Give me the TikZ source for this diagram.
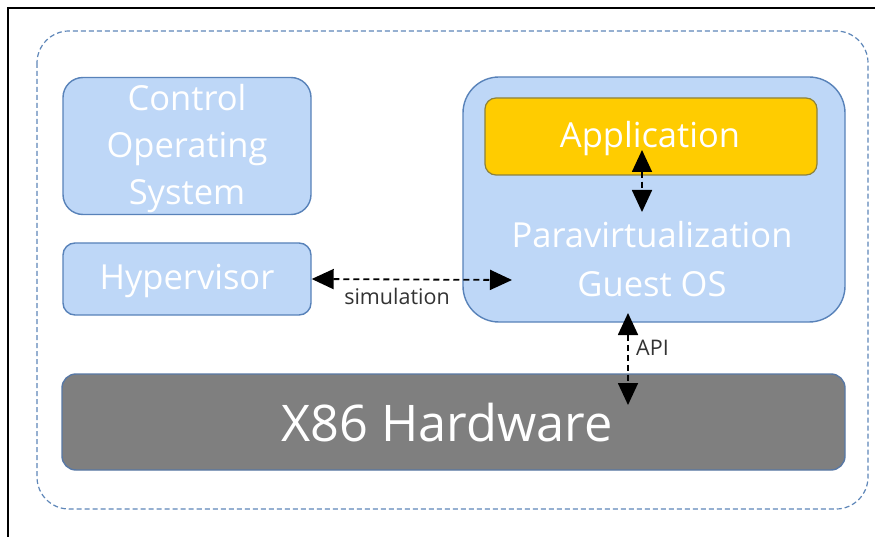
\documentclass[tikz,border=0pt]{standalone}
\usepackage{fontspec}
\setmainfont{Open Sans}
\usetikzlibrary{arrows.meta}
\definecolor{boxfill}{RGB}{190,215,247}
\definecolor{boxline}{RGB}{88,130,185}
\definecolor{appfill}{RGB}{255,204,0}
\definecolor{appline}{RGB}{140,130,60}
\definecolor{hwfill}{RGB}{127,127,127}
\definecolor{hwline}{RGB}{88,120,165}
\definecolor{outerline}{RGB}{95,135,185}
\tikzset{
  bluebox/.style={draw=boxline, fill=boxfill, line width=1.4pt, inner sep=0pt},
  appbox/.style={draw=appline, fill=appfill, line width=1.2pt, inner sep=0pt},
  hwbox/.style={draw=hwline, fill=hwfill, line width=1.4pt, inner sep=0pt},
  boxtext/.style={text=white, align=center, inner sep=0pt, anchor=base},
  dasharrow/.style={black, line width=1.8pt, dash pattern=on 6pt off 4pt, {Triangle[length=22pt,width=20pt]}-{Triangle[length=22pt,width=20pt]}},
  smalllabel/.style={font=\fontsize{21.5}{24}\selectfont, text=black!80, inner sep=0pt, anchor=base}
}
\begin{document}
\begin{tikzpicture}[x=1pt,y=-1pt]
\useasboundingbox (0,0) rectangle (875,537);
\fill[white] (0,0) rectangle (875,537);
% outer frame lines
\draw[black, line width=2pt] (8,537) -- (8,8) -- (875,8);
% outer dashed container
\draw[outerline, line width=1.2pt, dash pattern=on 5pt off 3pt, rounded corners=32pt] (37,31) rectangle (868,509);
% boxes
\node[bluebox, rounded corners=20pt, minimum width=248pt, minimum height=137pt] (cos) at (187,146) {};
\node[boxtext, font=\fontsize{34.5}{47}\selectfont] (cosT) at (187,205) {Control\\Operating\\System};
\node[bluebox, rounded corners=12pt, minimum width=248pt, minimum height=72pt] (hyp) at (187,279) {};
\node[boxtext, font=\fontsize{34.5}{40}\selectfont] (hypT) at (187,290) {Hypervisor};
\node[bluebox, rounded corners=36pt, minimum width=382pt, minimum height=245pt] (guest) at (654,199.5) {};
\node[boxtext, font=\fontsize{34.5}{50}\selectfont] (guestT) at (652,297) {Paravirtualization\\Guest OS};
\node[appbox, rounded corners=11pt, minimum width=332pt, minimum height=77pt] (app) at (651,136.5) {};
\node[boxtext, font=\fontsize{34.5}{40}\selectfont] (appT) at (650,148) {Application};
\node[hwbox, rounded corners=14pt, minimum width=783pt, minimum height=96pt] (hw) at (453.5,422) {};
\node[boxtext, font=\fontsize{50.5}{54}\selectfont] (hwT) at (447,441) {X86 Hardware};
% arrows
\coordinate (apptip) at (642,150);
\coordinate (guesttip) at (642,212);
\draw[dasharrow] (apptip) -- (guesttip);
\coordinate (simtip) at (512,280);
\draw[dasharrow] (hyp.east) -- (simtip);
\node[smalllabel] (simlabel) at (397,305) {simulation};
\coordinate (apitop) at (628,313);
\coordinate (apibot) at (628,405);
\draw[dasharrow] (apitop) -- (apibot);
\node[smalllabel, anchor=base west] (apilabel) at (636,355) {API};
\end{tikzpicture}
\end{document}
